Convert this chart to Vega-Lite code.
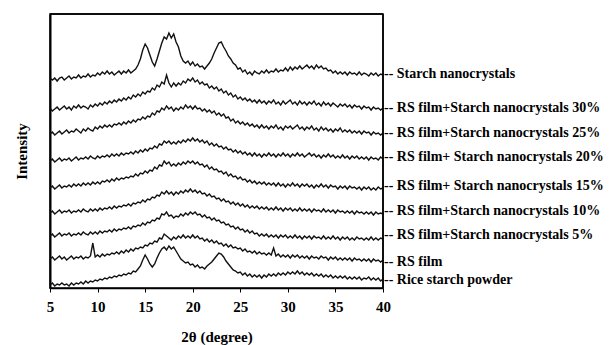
{
"$schema": "https://vega.github.io/schema/vega-lite/v6.json",
"width": 333, "height": 274,
"autosize": "none",
"padding": {"left": 50, "top": 14, "right": 226, "bottom": 57},
"background": "white",
"config": {"view": {"stroke": "black", "strokeWidth": 1.5}, "font": "Liberation Serif"},
"datasets": {
"frame": [
{"s":"top","x":5,"y":274},{"s":"top","x":40,"y":274},
{"s":"right","x":40,"y":0},{"s":"right","x":40,"y":274}
],
"labels": [
{"x":40,"y":214,"t":"-- Starch nanocrystals"},
{"x":40,"y":180,"t":"-- RS film+Starch nanocrystals 30%"},
{"x":40,"y":155,"t":"-- RS film+Starch nanocrystals 25%"},
{"x":40,"y":131,"t":"-- RS film+ Starch nanocrystals 20%"},
{"x":40,"y":102,"t":"-- RS film+ Starch nanocrystals 15%"},
{"x":40,"y":77,"t":"-- RS film+Starch nanocrystals 10%"},
{"x":40,"y":53,"t":"-- RS film+Starch nanocrystals  5%"},
{"x":40,"y":26,"t":"-- RS film"},
{"x":40,"y":8,"t":"-- Rice starch powder"}
],
"xrd": [
{"s":"A","x":5,"y":210},{"s":"A","x":5.25,"y":208},{"s":"A","x":5.5,"y":210},{"s":"A","x":5.75,"y":207},{"s":"A","x":6,"y":210},{"s":"A","x":6.25,"y":211},{"s":"A","x":6.5,"y":208},{"s":"A","x":6.75,"y":210},{"s":"A","x":7,"y":212},{"s":"A","x":7.25,"y":209},{"s":"A","x":7.5,"y":211},{"s":"A","x":7.75,"y":210},{"s":"A","x":8,"y":213},{"s":"A","x":8.25,"y":210},{"s":"A","x":8.5,"y":212},{"s":"A","x":8.75,"y":211},{"s":"A","x":9,"y":214},{"s":"A","x":9.25,"y":211},{"s":"A","x":9.5,"y":213},{"s":"A","x":9.75,"y":212},
{"s":"A","x":10,"y":215},{"s":"A","x":10.25,"y":213},{"s":"A","x":10.5,"y":216},{"s":"A","x":10.75,"y":214},{"s":"A","x":11,"y":217},{"s":"A","x":11.25,"y":214},{"s":"A","x":11.5,"y":216},{"s":"A","x":11.75,"y":213},{"s":"A","x":12,"y":215},{"s":"A","x":12.25,"y":217},{"s":"A","x":12.5,"y":214},{"s":"A","x":12.75,"y":217},{"s":"A","x":13,"y":215},{"s":"A","x":13.25,"y":218},{"s":"A","x":13.5,"y":215},{"s":"A","x":13.75,"y":217},
{"s":"A","x":14,"y":219},{"s":"A","x":14.25,"y":223},{"s":"A","x":14.5,"y":229},{"s":"A","x":14.75,"y":238},{"s":"A","x":15,"y":244},{"s":"A","x":15.25,"y":240},{"s":"A","x":15.5,"y":233},{"s":"A","x":15.75,"y":226},{"s":"A","x":16,"y":222},{"s":"A","x":16.25,"y":229},{"s":"A","x":16.5,"y":237},{"s":"A","x":16.75,"y":245},{"s":"A","x":17,"y":251},{"s":"A","x":17.25,"y":249},{"s":"A","x":17.5,"y":255},{"s":"A","x":17.75,"y":250},{"s":"A","x":18,"y":254},{"s":"A","x":18.25,"y":246},{"s":"A","x":18.5,"y":241},{"s":"A","x":18.75,"y":232},
{"s":"A","x":19,"y":227},{"s":"A","x":19.25,"y":225},{"s":"A","x":19.5,"y":227},{"s":"A","x":19.75,"y":223},{"s":"A","x":20,"y":226},{"s":"A","x":20.25,"y":222},{"s":"A","x":20.5,"y":224},{"s":"A","x":20.75,"y":221},{"s":"A","x":21,"y":222},{"s":"A","x":21.25,"y":219},{"s":"A","x":21.5,"y":222},{"s":"A","x":21.75,"y":225},{"s":"A","x":22,"y":229},{"s":"A","x":22.25,"y":235},{"s":"A","x":22.5,"y":240},{"s":"A","x":22.75,"y":245},{"s":"A","x":23,"y":246},{"s":"A","x":23.25,"y":241},{"s":"A","x":23.5,"y":237},{"s":"A","x":23.75,"y":232},
{"s":"A","x":24,"y":229},{"s":"A","x":24.25,"y":225},{"s":"A","x":24.5,"y":223},{"s":"A","x":24.75,"y":219},{"s":"A","x":25,"y":220},{"s":"A","x":25.25,"y":216},{"s":"A","x":25.5,"y":218},{"s":"A","x":25.75,"y":214},{"s":"A","x":26,"y":216},{"s":"A","x":26.25,"y":213},{"s":"A","x":26.5,"y":217},{"s":"A","x":26.75,"y":215},{"s":"A","x":27,"y":214},{"s":"A","x":27.25,"y":217},{"s":"A","x":27.5,"y":215},{"s":"A","x":27.75,"y":218},{"s":"A","x":28,"y":215},{"s":"A","x":28.25,"y":217},{"s":"A","x":28.5,"y":216},{"s":"A","x":28.75,"y":219},
{"s":"A","x":29,"y":216},{"s":"A","x":29.25,"y":218},{"s":"A","x":29.5,"y":217},{"s":"A","x":29.75,"y":220},{"s":"A","x":30,"y":217},{"s":"A","x":30.25,"y":221},{"s":"A","x":30.5,"y":218},{"s":"A","x":30.75,"y":221},{"s":"A","x":31,"y":219},{"s":"A","x":31.25,"y":222},{"s":"A","x":31.5,"y":219},{"s":"A","x":31.75,"y":221},{"s":"A","x":32,"y":223},{"s":"A","x":32.25,"y":220},{"s":"A","x":32.5,"y":222},{"s":"A","x":32.75,"y":219},{"s":"A","x":33,"y":223},{"s":"A","x":33.25,"y":220},{"s":"A","x":33.5,"y":222},{"s":"A","x":33.75,"y":219},
{"s":"A","x":34,"y":220},{"s":"A","x":34.25,"y":217},{"s":"A","x":34.5,"y":218},{"s":"A","x":34.75,"y":215},{"s":"A","x":35,"y":217},{"s":"A","x":35.25,"y":214},{"s":"A","x":35.5,"y":216},{"s":"A","x":35.75,"y":214},{"s":"A","x":36,"y":216},{"s":"A","x":36.25,"y":213},{"s":"A","x":36.5,"y":216},{"s":"A","x":36.75,"y":214},{"s":"A","x":37,"y":215},{"s":"A","x":37.25,"y":213},{"s":"A","x":37.5,"y":216},{"s":"A","x":37.75,"y":213},{"s":"A","x":38,"y":215},{"s":"A","x":38.25,"y":214},{"s":"A","x":38.5,"y":212},{"s":"A","x":38.75,"y":215},
{"s":"A","x":39,"y":213},{"s":"A","x":39.25,"y":215},{"s":"A","x":39.5,"y":212},{"s":"A","x":39.75,"y":214},{"s":"A","x":40,"y":213},

{"s":"B","x":5,"y":180},{"s":"B","x":5.25,"y":177},{"s":"B","x":5.5,"y":179},{"s":"B","x":5.75,"y":181},{"s":"B","x":6,"y":178},{"s":"B","x":6.25,"y":180},{"s":"B","x":6.5,"y":182},{"s":"B","x":6.75,"y":179},{"s":"B","x":7,"y":181},{"s":"B","x":7.25,"y":178},{"s":"B","x":7.5,"y":182},{"s":"B","x":7.75,"y":180},{"s":"B","x":8,"y":183},{"s":"B","x":8.25,"y":180},{"s":"B","x":8.5,"y":182},{"s":"B","x":8.75,"y":181},{"s":"B","x":9,"y":179},{"s":"B","x":9.25,"y":183},{"s":"B","x":9.5,"y":181},{"s":"B","x":9.75,"y":184},
{"s":"B","x":10,"y":182},{"s":"B","x":10.25,"y":185},{"s":"B","x":10.5,"y":183},{"s":"B","x":10.75,"y":186},{"s":"B","x":11,"y":184},{"s":"B","x":11.25,"y":187},{"s":"B","x":11.5,"y":185},{"s":"B","x":11.75,"y":188},{"s":"B","x":12,"y":186},{"s":"B","x":12.25,"y":189},{"s":"B","x":12.5,"y":187},{"s":"B","x":12.75,"y":190},{"s":"B","x":13,"y":188},{"s":"B","x":13.25,"y":191},{"s":"B","x":13.5,"y":189},{"s":"B","x":13.75,"y":193},
{"s":"B","x":14,"y":191},{"s":"B","x":14.25,"y":194},{"s":"B","x":14.5,"y":192},{"s":"B","x":14.75,"y":196},{"s":"B","x":15,"y":194},{"s":"B","x":15.25,"y":197},{"s":"B","x":15.5,"y":196},{"s":"B","x":15.75,"y":200},{"s":"B","x":16,"y":198},{"s":"B","x":16.25,"y":203},{"s":"B","x":16.5,"y":201},{"s":"B","x":16.75,"y":206},{"s":"B","x":17,"y":204},{"s":"B","x":17.25,"y":213},{"s":"B","x":17.5,"y":205},{"s":"B","x":17.75,"y":201},{"s":"B","x":18,"y":205},{"s":"B","x":18.25,"y":202},{"s":"B","x":18.5,"y":205},{"s":"B","x":18.75,"y":203},
{"s":"B","x":19,"y":207},{"s":"B","x":19.25,"y":205},{"s":"B","x":19.5,"y":209},{"s":"B","x":19.75,"y":207},{"s":"B","x":20,"y":210},{"s":"B","x":20.25,"y":206},{"s":"B","x":20.5,"y":208},{"s":"B","x":20.75,"y":204},{"s":"B","x":21,"y":206},{"s":"B","x":21.25,"y":203},{"s":"B","x":21.5,"y":204},{"s":"B","x":21.75,"y":200},{"s":"B","x":22,"y":202},{"s":"B","x":22.25,"y":199},{"s":"B","x":22.5,"y":201},{"s":"B","x":22.75,"y":197},{"s":"B","x":23,"y":199},{"s":"B","x":23.25,"y":195},{"s":"B","x":23.5,"y":197},{"s":"B","x":23.75,"y":193},
{"s":"B","x":24,"y":195},{"s":"B","x":24.25,"y":191},{"s":"B","x":24.5,"y":193},{"s":"B","x":24.75,"y":189},{"s":"B","x":25,"y":191},{"s":"B","x":25.25,"y":188},{"s":"B","x":25.5,"y":190},{"s":"B","x":25.75,"y":187},{"s":"B","x":26,"y":189},{"s":"B","x":26.25,"y":186},{"s":"B","x":26.5,"y":188},{"s":"B","x":26.75,"y":185},{"s":"B","x":27,"y":188},{"s":"B","x":27.25,"y":185},{"s":"B","x":27.5,"y":187},{"s":"B","x":27.75,"y":184},{"s":"B","x":28,"y":187},{"s":"B","x":28.25,"y":185},{"s":"B","x":28.5,"y":188},{"s":"B","x":28.75,"y":184},
{"s":"B","x":29,"y":186},{"s":"B","x":29.25,"y":183},{"s":"B","x":29.5,"y":187},{"s":"B","x":29.75,"y":184},{"s":"B","x":30,"y":186},{"s":"B","x":30.25,"y":188},{"s":"B","x":30.5,"y":184},{"s":"B","x":30.75,"y":186},{"s":"B","x":31,"y":183},{"s":"B","x":31.25,"y":187},{"s":"B","x":31.5,"y":184},{"s":"B","x":31.75,"y":186},{"s":"B","x":32,"y":183},{"s":"B","x":32.25,"y":186},{"s":"B","x":32.5,"y":184},{"s":"B","x":32.75,"y":187},{"s":"B","x":33,"y":183},{"s":"B","x":33.25,"y":185},{"s":"B","x":33.5,"y":182},{"s":"B","x":33.75,"y":186},
{"s":"B","x":34,"y":183},{"s":"B","x":34.25,"y":185},{"s":"B","x":34.5,"y":182},{"s":"B","x":34.75,"y":185},{"s":"B","x":35,"y":183},{"s":"B","x":35.25,"y":181},{"s":"B","x":35.5,"y":184},{"s":"B","x":35.75,"y":182},{"s":"B","x":36,"y":184},{"s":"B","x":36.25,"y":181},{"s":"B","x":36.5,"y":183},{"s":"B","x":36.75,"y":180},{"s":"B","x":37,"y":183},{"s":"B","x":37.25,"y":181},{"s":"B","x":37.5,"y":182},{"s":"B","x":37.75,"y":179},{"s":"B","x":38,"y":182},{"s":"B","x":38.25,"y":180},{"s":"B","x":38.5,"y":181},{"s":"B","x":38.75,"y":178},
{"s":"B","x":39,"y":181},{"s":"B","x":39.25,"y":179},{"s":"B","x":39.5,"y":180},{"s":"B","x":39.75,"y":178},{"s":"B","x":40,"y":180},

{"s":"C","x":5,"y":154},{"s":"C","x":5.25,"y":156},{"s":"C","x":5.5,"y":153},{"s":"C","x":5.75,"y":155},{"s":"C","x":6,"y":157},{"s":"C","x":6.25,"y":154},{"s":"C","x":6.5,"y":156},{"s":"C","x":6.75,"y":158},{"s":"C","x":7,"y":155},{"s":"C","x":7.25,"y":157},{"s":"C","x":7.5,"y":156},{"s":"C","x":7.75,"y":159},{"s":"C","x":8,"y":157},{"s":"C","x":8.25,"y":155},{"s":"C","x":8.5,"y":159},{"s":"C","x":8.75,"y":157},{"s":"C","x":9,"y":160},{"s":"C","x":9.25,"y":158},{"s":"C","x":9.5,"y":157},{"s":"C","x":9.75,"y":161},
{"s":"C","x":10,"y":159},{"s":"C","x":10.25,"y":162},{"s":"C","x":10.5,"y":160},{"s":"C","x":10.75,"y":163},{"s":"C","x":11,"y":161},{"s":"C","x":11.25,"y":163},{"s":"C","x":11.5,"y":161},{"s":"C","x":11.75,"y":164},{"s":"C","x":12,"y":163},{"s":"C","x":12.25,"y":165},{"s":"C","x":12.5,"y":163},{"s":"C","x":12.75,"y":166},{"s":"C","x":13,"y":164},{"s":"C","x":13.25,"y":167},{"s":"C","x":13.5,"y":165},{"s":"C","x":13.75,"y":168},
{"s":"C","x":14,"y":166},{"s":"C","x":14.25,"y":169},{"s":"C","x":14.5,"y":168},{"s":"C","x":14.75,"y":171},{"s":"C","x":15,"y":169},{"s":"C","x":15.25,"y":172},{"s":"C","x":15.5,"y":171},{"s":"C","x":15.75,"y":175},{"s":"C","x":16,"y":173},{"s":"C","x":16.25,"y":177},{"s":"C","x":16.5,"y":176},{"s":"C","x":16.75,"y":180},{"s":"C","x":17,"y":178},{"s":"C","x":17.25,"y":182},{"s":"C","x":17.5,"y":179},{"s":"C","x":17.75,"y":181},{"s":"C","x":18,"y":177},{"s":"C","x":18.25,"y":180},{"s":"C","x":18.5,"y":178},{"s":"C","x":18.75,"y":181},
{"s":"C","x":19,"y":179},{"s":"C","x":19.25,"y":183},{"s":"C","x":19.5,"y":180},{"s":"C","x":19.75,"y":182},{"s":"C","x":20,"y":179},{"s":"C","x":20.25,"y":182},{"s":"C","x":20.5,"y":179},{"s":"C","x":20.75,"y":180},{"s":"C","x":21,"y":177},{"s":"C","x":21.25,"y":179},{"s":"C","x":21.5,"y":176},{"s":"C","x":21.75,"y":178},{"s":"C","x":22,"y":175},{"s":"C","x":22.25,"y":177},{"s":"C","x":22.5,"y":173},{"s":"C","x":22.75,"y":175},{"s":"C","x":23,"y":172},{"s":"C","x":23.25,"y":174},{"s":"C","x":23.5,"y":170},{"s":"C","x":23.75,"y":171},
{"s":"C","x":24,"y":167},{"s":"C","x":24.25,"y":169},{"s":"C","x":24.5,"y":165},{"s":"C","x":24.75,"y":167},{"s":"C","x":25,"y":164},{"s":"C","x":25.25,"y":166},{"s":"C","x":25.5,"y":163},{"s":"C","x":25.75,"y":165},{"s":"C","x":26,"y":162},{"s":"C","x":26.25,"y":164},{"s":"C","x":26.5,"y":161},{"s":"C","x":26.75,"y":163},{"s":"C","x":27,"y":160},{"s":"C","x":27.25,"y":163},{"s":"C","x":27.5,"y":160},{"s":"C","x":27.75,"y":162},{"s":"C","x":28,"y":159},{"s":"C","x":28.25,"y":162},{"s":"C","x":28.5,"y":160},{"s":"C","x":28.75,"y":163},
{"s":"C","x":29,"y":159},{"s":"C","x":29.25,"y":161},{"s":"C","x":29.5,"y":158},{"s":"C","x":29.75,"y":162},{"s":"C","x":30,"y":160},{"s":"C","x":30.25,"y":162},{"s":"C","x":30.5,"y":159},{"s":"C","x":30.75,"y":161},{"s":"C","x":31,"y":163},{"s":"C","x":31.25,"y":159},{"s":"C","x":31.5,"y":161},{"s":"C","x":31.75,"y":158},{"s":"C","x":32,"y":161},{"s":"C","x":32.25,"y":159},{"s":"C","x":32.5,"y":162},{"s":"C","x":32.75,"y":158},{"s":"C","x":33,"y":160},{"s":"C","x":33.25,"y":157},{"s":"C","x":33.5,"y":161},{"s":"C","x":33.75,"y":158},
{"s":"C","x":34,"y":160},{"s":"C","x":34.25,"y":157},{"s":"C","x":34.5,"y":159},{"s":"C","x":34.75,"y":156},{"s":"C","x":35,"y":159},{"s":"C","x":35.25,"y":157},{"s":"C","x":35.5,"y":160},{"s":"C","x":35.75,"y":156},{"s":"C","x":36,"y":158},{"s":"C","x":36.25,"y":156},{"s":"C","x":36.5,"y":158},{"s":"C","x":36.75,"y":155},{"s":"C","x":37,"y":157},{"s":"C","x":37.25,"y":155},{"s":"C","x":37.5,"y":157},{"s":"C","x":37.75,"y":154},{"s":"C","x":38,"y":157},{"s":"C","x":38.25,"y":155},{"s":"C","x":38.5,"y":156},{"s":"C","x":38.75,"y":153},
{"s":"C","x":39,"y":156},{"s":"C","x":39.25,"y":154},{"s":"C","x":39.5,"y":155},{"s":"C","x":39.75,"y":153},{"s":"C","x":40,"y":155},

{"s":"D","x":5,"y":127},{"s":"D","x":5.25,"y":129},{"s":"D","x":5.5,"y":126},{"s":"D","x":5.75,"y":128},{"s":"D","x":6,"y":130},{"s":"D","x":6.25,"y":127},{"s":"D","x":6.5,"y":129},{"s":"D","x":6.75,"y":128},{"s":"D","x":7,"y":130},{"s":"D","x":7.25,"y":127},{"s":"D","x":7.5,"y":129},{"s":"D","x":7.75,"y":131},{"s":"D","x":8,"y":128},{"s":"D","x":8.25,"y":130},{"s":"D","x":8.5,"y":129},{"s":"D","x":8.75,"y":131},{"s":"D","x":9,"y":129},{"s":"D","x":9.25,"y":132},{"s":"D","x":9.5,"y":130},{"s":"D","x":9.75,"y":129},
{"s":"D","x":10,"y":132},{"s":"D","x":10.25,"y":130},{"s":"D","x":10.5,"y":132},{"s":"D","x":10.75,"y":131},{"s":"D","x":11,"y":133},{"s":"D","x":11.25,"y":131},{"s":"D","x":11.5,"y":134},{"s":"D","x":11.75,"y":132},{"s":"D","x":12,"y":134},{"s":"D","x":12.25,"y":132},{"s":"D","x":12.5,"y":135},{"s":"D","x":12.75,"y":133},{"s":"D","x":13,"y":135},{"s":"D","x":13.25,"y":134},{"s":"D","x":13.5,"y":136},{"s":"D","x":13.75,"y":134},
{"s":"D","x":14,"y":137},{"s":"D","x":14.25,"y":135},{"s":"D","x":14.5,"y":138},{"s":"D","x":14.75,"y":136},{"s":"D","x":15,"y":139},{"s":"D","x":15.25,"y":137},{"s":"D","x":15.5,"y":140},{"s":"D","x":15.75,"y":139},{"s":"D","x":16,"y":142},{"s":"D","x":16.25,"y":140},{"s":"D","x":16.5,"y":144},{"s":"D","x":16.75,"y":143},{"s":"D","x":17,"y":147},{"s":"D","x":17.25,"y":145},{"s":"D","x":17.5,"y":147},{"s":"D","x":17.75,"y":144},{"s":"D","x":18,"y":146},{"s":"D","x":18.25,"y":144},{"s":"D","x":18.5,"y":147},{"s":"D","x":18.75,"y":145},
{"s":"D","x":19,"y":148},{"s":"D","x":19.25,"y":146},{"s":"D","x":19.5,"y":149},{"s":"D","x":19.75,"y":147},{"s":"D","x":20,"y":150},{"s":"D","x":20.25,"y":147},{"s":"D","x":20.5,"y":149},{"s":"D","x":20.75,"y":146},{"s":"D","x":21,"y":148},{"s":"D","x":21.25,"y":145},{"s":"D","x":21.5,"y":147},{"s":"D","x":21.75,"y":143},{"s":"D","x":22,"y":145},{"s":"D","x":22.25,"y":142},{"s":"D","x":22.5,"y":144},{"s":"D","x":22.75,"y":141},{"s":"D","x":23,"y":142},{"s":"D","x":23.25,"y":139},{"s":"D","x":23.5,"y":141},{"s":"D","x":23.75,"y":138},
{"s":"D","x":24,"y":139},{"s":"D","x":24.25,"y":136},{"s":"D","x":24.5,"y":138},{"s":"D","x":24.75,"y":135},{"s":"D","x":25,"y":137},{"s":"D","x":25.25,"y":134},{"s":"D","x":25.5,"y":136},{"s":"D","x":25.75,"y":133},{"s":"D","x":26,"y":135},{"s":"D","x":26.25,"y":132},{"s":"D","x":26.5,"y":135},{"s":"D","x":26.75,"y":132},{"s":"D","x":27,"y":134},{"s":"D","x":27.25,"y":131},{"s":"D","x":27.5,"y":134},{"s":"D","x":27.75,"y":132},{"s":"D","x":28,"y":135},{"s":"D","x":28.25,"y":132},{"s":"D","x":28.5,"y":134},{"s":"D","x":28.75,"y":131},
{"s":"D","x":29,"y":134},{"s":"D","x":29.25,"y":132},{"s":"D","x":29.5,"y":135},{"s":"D","x":29.75,"y":132},{"s":"D","x":30,"y":134},{"s":"D","x":30.25,"y":131},{"s":"D","x":30.5,"y":134},{"s":"D","x":30.75,"y":132},{"s":"D","x":31,"y":135},{"s":"D","x":31.25,"y":132},{"s":"D","x":31.5,"y":134},{"s":"D","x":31.75,"y":131},{"s":"D","x":32,"y":133},{"s":"D","x":32.25,"y":135},{"s":"D","x":32.5,"y":132},{"s":"D","x":32.75,"y":134},{"s":"D","x":33,"y":131},{"s":"D","x":33.25,"y":133},{"s":"D","x":33.5,"y":130},{"s":"D","x":33.75,"y":133},
{"s":"D","x":34,"y":131},{"s":"D","x":34.25,"y":134},{"s":"D","x":34.5,"y":131},{"s":"D","x":34.75,"y":133},{"s":"D","x":35,"y":130},{"s":"D","x":35.25,"y":132},{"s":"D","x":35.5,"y":130},{"s":"D","x":35.75,"y":133},{"s":"D","x":36,"y":130},{"s":"D","x":36.25,"y":132},{"s":"D","x":36.5,"y":129},{"s":"D","x":36.75,"y":132},{"s":"D","x":37,"y":130},{"s":"D","x":37.25,"y":132},{"s":"D","x":37.5,"y":129},{"s":"D","x":37.75,"y":131},{"s":"D","x":38,"y":129},{"s":"D","x":38.25,"y":131},{"s":"D","x":38.5,"y":128},{"s":"D","x":38.75,"y":131},
{"s":"D","x":39,"y":129},{"s":"D","x":39.25,"y":130},{"s":"D","x":39.5,"y":128},{"s":"D","x":39.75,"y":131},{"s":"D","x":40,"y":129},

{"s":"E","x":5,"y":100},{"s":"E","x":5.25,"y":102},{"s":"E","x":5.5,"y":99},{"s":"E","x":5.75,"y":101},{"s":"E","x":6,"y":103},{"s":"E","x":6.25,"y":100},{"s":"E","x":6.5,"y":102},{"s":"E","x":6.75,"y":101},{"s":"E","x":7,"y":103},{"s":"E","x":7.25,"y":101},{"s":"E","x":7.5,"y":104},{"s":"E","x":7.75,"y":102},{"s":"E","x":8,"y":104},{"s":"E","x":8.25,"y":102},{"s":"E","x":8.5,"y":105},{"s":"E","x":8.75,"y":103},{"s":"E","x":9,"y":105},{"s":"E","x":9.25,"y":103},{"s":"E","x":9.5,"y":106},{"s":"E","x":9.75,"y":104},
{"s":"E","x":10,"y":106},{"s":"E","x":10.25,"y":104},{"s":"E","x":10.5,"y":107},{"s":"E","x":10.75,"y":106},{"s":"E","x":11,"y":108},{"s":"E","x":11.25,"y":106},{"s":"E","x":11.5,"y":109},{"s":"E","x":11.75,"y":107},{"s":"E","x":12,"y":110},{"s":"E","x":12.25,"y":108},{"s":"E","x":12.5,"y":110},{"s":"E","x":12.75,"y":109},{"s":"E","x":13,"y":111},{"s":"E","x":13.25,"y":110},{"s":"E","x":13.5,"y":112},{"s":"E","x":13.75,"y":111},
{"s":"E","x":14,"y":114},{"s":"E","x":14.25,"y":112},{"s":"E","x":14.5,"y":115},{"s":"E","x":14.75,"y":114},{"s":"E","x":15,"y":117},{"s":"E","x":15.25,"y":115},{"s":"E","x":15.5,"y":118},{"s":"E","x":15.75,"y":117},{"s":"E","x":16,"y":121},{"s":"E","x":16.25,"y":119},{"s":"E","x":16.5,"y":123},{"s":"E","x":16.75,"y":122},{"s":"E","x":17,"y":127},{"s":"E","x":17.25,"y":124},{"s":"E","x":17.5,"y":126},{"s":"E","x":17.75,"y":122},{"s":"E","x":18,"y":124},{"s":"E","x":18.25,"y":122},{"s":"E","x":18.5,"y":125},{"s":"E","x":18.75,"y":123},
{"s":"E","x":19,"y":126},{"s":"E","x":19.25,"y":124},{"s":"E","x":19.5,"y":127},{"s":"E","x":19.75,"y":125},{"s":"E","x":20,"y":127},{"s":"E","x":20.25,"y":124},{"s":"E","x":20.5,"y":126},{"s":"E","x":20.75,"y":123},{"s":"E","x":21,"y":124},{"s":"E","x":21.25,"y":121},{"s":"E","x":21.5,"y":123},{"s":"E","x":21.75,"y":119},{"s":"E","x":22,"y":121},{"s":"E","x":22.25,"y":118},{"s":"E","x":22.5,"y":119},{"s":"E","x":22.75,"y":116},{"s":"E","x":23,"y":117},{"s":"E","x":23.25,"y":114},{"s":"E","x":23.5,"y":116},{"s":"E","x":23.75,"y":112},
{"s":"E","x":24,"y":114},{"s":"E","x":24.25,"y":111},{"s":"E","x":24.5,"y":112},{"s":"E","x":24.75,"y":109},{"s":"E","x":25,"y":111},{"s":"E","x":25.25,"y":108},{"s":"E","x":25.5,"y":109},{"s":"E","x":25.75,"y":106},{"s":"E","x":26,"y":108},{"s":"E","x":26.25,"y":105},{"s":"E","x":26.5,"y":107},{"s":"E","x":26.75,"y":104},{"s":"E","x":27,"y":106},{"s":"E","x":27.25,"y":104},{"s":"E","x":27.5,"y":106},{"s":"E","x":27.75,"y":103},{"s":"E","x":28,"y":105},{"s":"E","x":28.25,"y":103},{"s":"E","x":28.5,"y":105},{"s":"E","x":28.75,"y":102},
{"s":"E","x":29,"y":105},{"s":"E","x":29.25,"y":102},{"s":"E","x":29.5,"y":104},{"s":"E","x":29.75,"y":101},{"s":"E","x":30,"y":104},{"s":"E","x":30.25,"y":102},{"s":"E","x":30.5,"y":105},{"s":"E","x":30.75,"y":102},{"s":"E","x":31,"y":104},{"s":"E","x":31.25,"y":101},{"s":"E","x":31.5,"y":104},{"s":"E","x":31.75,"y":102},{"s":"E","x":32,"y":104},{"s":"E","x":32.25,"y":101},{"s":"E","x":32.5,"y":103},{"s":"E","x":32.75,"y":100},{"s":"E","x":33,"y":103},{"s":"E","x":33.25,"y":101},{"s":"E","x":33.5,"y":104},{"s":"E","x":33.75,"y":101},
{"s":"E","x":34,"y":103},{"s":"E","x":34.25,"y":100},{"s":"E","x":34.5,"y":103},{"s":"E","x":34.75,"y":101},{"s":"E","x":35,"y":102},{"s":"E","x":35.25,"y":99},{"s":"E","x":35.5,"y":102},{"s":"E","x":35.75,"y":100},{"s":"E","x":36,"y":102},{"s":"E","x":36.25,"y":99},{"s":"E","x":36.5,"y":102},{"s":"E","x":36.75,"y":100},{"s":"E","x":37,"y":101},{"s":"E","x":37.25,"y":99},{"s":"E","x":37.5,"y":101},{"s":"E","x":37.75,"y":98},{"s":"E","x":38,"y":101},{"s":"E","x":38.25,"y":99},{"s":"E","x":38.5,"y":101},{"s":"E","x":38.75,"y":98},
{"s":"E","x":39,"y":100},{"s":"E","x":39.25,"y":98},{"s":"E","x":39.5,"y":101},{"s":"E","x":39.75,"y":99},{"s":"E","x":40,"y":100},

{"s":"F","x":5,"y":75},{"s":"F","x":5.25,"y":77},{"s":"F","x":5.5,"y":74},{"s":"F","x":5.75,"y":76},{"s":"F","x":6,"y":78},{"s":"F","x":6.25,"y":75},{"s":"F","x":6.5,"y":77},{"s":"F","x":6.75,"y":76},{"s":"F","x":7,"y":78},{"s":"F","x":7.25,"y":75},{"s":"F","x":7.5,"y":77},{"s":"F","x":7.75,"y":76},{"s":"F","x":8,"y":78},{"s":"F","x":8.25,"y":76},{"s":"F","x":8.5,"y":79},{"s":"F","x":8.75,"y":77},{"s":"F","x":9,"y":76},{"s":"F","x":9.25,"y":79},{"s":"F","x":9.5,"y":77},{"s":"F","x":9.75,"y":79},
{"s":"F","x":10,"y":77},{"s":"F","x":10.25,"y":80},{"s":"F","x":10.5,"y":78},{"s":"F","x":10.75,"y":80},{"s":"F","x":11,"y":79},{"s":"F","x":11.25,"y":81},{"s":"F","x":11.5,"y":79},{"s":"F","x":11.75,"y":82},{"s":"F","x":12,"y":80},{"s":"F","x":12.25,"y":82},{"s":"F","x":12.5,"y":81},{"s":"F","x":12.75,"y":83},{"s":"F","x":13,"y":82},{"s":"F","x":13.25,"y":84},{"s":"F","x":13.5,"y":82},{"s":"F","x":13.75,"y":85},
{"s":"F","x":14,"y":84},{"s":"F","x":14.25,"y":86},{"s":"F","x":14.5,"y":85},{"s":"F","x":14.75,"y":88},{"s":"F","x":15,"y":86},{"s":"F","x":15.25,"y":89},{"s":"F","x":15.5,"y":88},{"s":"F","x":15.75,"y":91},{"s":"F","x":16,"y":90},{"s":"F","x":16.25,"y":93},{"s":"F","x":16.5,"y":92},{"s":"F","x":16.75,"y":96},{"s":"F","x":17,"y":94},{"s":"F","x":17.25,"y":97},{"s":"F","x":17.5,"y":94},{"s":"F","x":17.75,"y":96},{"s":"F","x":18,"y":93},{"s":"F","x":18.25,"y":96},{"s":"F","x":18.5,"y":94},{"s":"F","x":18.75,"y":97},
{"s":"F","x":19,"y":95},{"s":"F","x":19.25,"y":98},{"s":"F","x":19.5,"y":96},{"s":"F","x":19.75,"y":99},{"s":"F","x":20,"y":96},{"s":"F","x":20.25,"y":98},{"s":"F","x":20.5,"y":95},{"s":"F","x":20.75,"y":97},{"s":"F","x":21,"y":94},{"s":"F","x":21.25,"y":95},{"s":"F","x":21.5,"y":92},{"s":"F","x":21.75,"y":94},{"s":"F","x":22,"y":91},{"s":"F","x":22.25,"y":92},{"s":"F","x":22.5,"y":89},{"s":"F","x":22.75,"y":90},{"s":"F","x":23,"y":87},{"s":"F","x":23.25,"y":89},{"s":"F","x":23.5,"y":86},{"s":"F","x":23.75,"y":87},
{"s":"F","x":24,"y":84},{"s":"F","x":24.25,"y":86},{"s":"F","x":24.5,"y":83},{"s":"F","x":24.75,"y":85},{"s":"F","x":25,"y":82},{"s":"F","x":25.25,"y":84},{"s":"F","x":25.5,"y":81},{"s":"F","x":25.75,"y":83},{"s":"F","x":26,"y":80},{"s":"F","x":26.25,"y":82},{"s":"F","x":26.5,"y":80},{"s":"F","x":26.75,"y":82},{"s":"F","x":27,"y":79},{"s":"F","x":27.25,"y":81},{"s":"F","x":27.5,"y":79},{"s":"F","x":27.75,"y":81},{"s":"F","x":28,"y":78},{"s":"F","x":28.25,"y":80},{"s":"F","x":28.5,"y":78},{"s":"F","x":28.75,"y":81},
{"s":"F","x":29,"y":78},{"s":"F","x":29.25,"y":80},{"s":"F","x":29.5,"y":77},{"s":"F","x":29.75,"y":80},{"s":"F","x":30,"y":78},{"s":"F","x":30.25,"y":80},{"s":"F","x":30.5,"y":77},{"s":"F","x":30.75,"y":79},{"s":"F","x":31,"y":77},{"s":"F","x":31.25,"y":80},{"s":"F","x":31.5,"y":77},{"s":"F","x":31.75,"y":79},{"s":"F","x":32,"y":77},{"s":"F","x":32.25,"y":79},{"s":"F","x":32.5,"y":76},{"s":"F","x":32.75,"y":79},{"s":"F","x":33,"y":77},{"s":"F","x":33.25,"y":78},{"s":"F","x":33.5,"y":76},{"s":"F","x":33.75,"y":79},
{"s":"F","x":34,"y":76},{"s":"F","x":34.25,"y":78},{"s":"F","x":34.5,"y":76},{"s":"F","x":34.75,"y":78},{"s":"F","x":35,"y":75},{"s":"F","x":35.25,"y":78},{"s":"F","x":35.5,"y":76},{"s":"F","x":35.75,"y":77},{"s":"F","x":36,"y":75},{"s":"F","x":36.25,"y":77},{"s":"F","x":36.5,"y":75},{"s":"F","x":36.75,"y":77},{"s":"F","x":37,"y":74},{"s":"F","x":37.25,"y":77},{"s":"F","x":37.5,"y":75},{"s":"F","x":37.75,"y":76},{"s":"F","x":38,"y":74},{"s":"F","x":38.25,"y":76},{"s":"F","x":38.5,"y":74},{"s":"F","x":38.75,"y":76},
{"s":"F","x":39,"y":73},{"s":"F","x":39.25,"y":76},{"s":"F","x":39.5,"y":74},{"s":"F","x":39.75,"y":75},{"s":"F","x":40,"y":74},

{"s":"G","x":5,"y":52},{"s":"G","x":5.25,"y":54},{"s":"G","x":5.5,"y":51},{"s":"G","x":5.75,"y":53},{"s":"G","x":6,"y":55},{"s":"G","x":6.25,"y":52},{"s":"G","x":6.5,"y":54},{"s":"G","x":6.75,"y":53},{"s":"G","x":7,"y":55},{"s":"G","x":7.25,"y":52},{"s":"G","x":7.5,"y":54},{"s":"G","x":7.75,"y":53},{"s":"G","x":8,"y":55},{"s":"G","x":8.25,"y":53},{"s":"G","x":8.5,"y":56},{"s":"G","x":8.75,"y":54},{"s":"G","x":9,"y":53},{"s":"G","x":9.25,"y":56},{"s":"G","x":9.5,"y":54},{"s":"G","x":9.75,"y":56},
{"s":"G","x":10,"y":54},{"s":"G","x":10.25,"y":57},{"s":"G","x":10.5,"y":55},{"s":"G","x":10.75,"y":57},{"s":"G","x":11,"y":56},{"s":"G","x":11.25,"y":58},{"s":"G","x":11.5,"y":56},{"s":"G","x":11.75,"y":59},{"s":"G","x":12,"y":57},{"s":"G","x":12.25,"y":59},{"s":"G","x":12.5,"y":58},{"s":"G","x":12.75,"y":60},{"s":"G","x":13,"y":59},{"s":"G","x":13.25,"y":61},{"s":"G","x":13.5,"y":59},{"s":"G","x":13.75,"y":62},
{"s":"G","x":14,"y":61},{"s":"G","x":14.25,"y":63},{"s":"G","x":14.5,"y":62},{"s":"G","x":14.75,"y":65},{"s":"G","x":15,"y":63},{"s":"G","x":15.25,"y":66},{"s":"G","x":15.5,"y":65},{"s":"G","x":15.75,"y":68},{"s":"G","x":16,"y":67},{"s":"G","x":16.25,"y":70},{"s":"G","x":16.5,"y":69},{"s":"G","x":16.75,"y":74},{"s":"G","x":17,"y":73},{"s":"G","x":17.25,"y":76},{"s":"G","x":17.5,"y":72},{"s":"G","x":17.75,"y":73},{"s":"G","x":18,"y":70},{"s":"G","x":18.25,"y":72},{"s":"G","x":18.5,"y":71},{"s":"G","x":18.75,"y":74},
{"s":"G","x":19,"y":72},{"s":"G","x":19.25,"y":75},{"s":"G","x":19.5,"y":73},{"s":"G","x":19.75,"y":76},{"s":"G","x":20,"y":74},{"s":"G","x":20.25,"y":76},{"s":"G","x":20.5,"y":73},{"s":"G","x":20.75,"y":74},{"s":"G","x":21,"y":71},{"s":"G","x":21.25,"y":73},{"s":"G","x":21.5,"y":70},{"s":"G","x":21.75,"y":71},{"s":"G","x":22,"y":68},{"s":"G","x":22.25,"y":70},{"s":"G","x":22.5,"y":67},{"s":"G","x":22.75,"y":68},{"s":"G","x":23,"y":65},{"s":"G","x":23.25,"y":66},{"s":"G","x":23.5,"y":63},{"s":"G","x":23.75,"y":64},
{"s":"G","x":24,"y":61},{"s":"G","x":24.25,"y":62},{"s":"G","x":24.5,"y":59},{"s":"G","x":24.75,"y":61},{"s":"G","x":25,"y":58},{"s":"G","x":25.25,"y":59},{"s":"G","x":25.5,"y":56},{"s":"G","x":25.75,"y":58},{"s":"G","x":26,"y":55},{"s":"G","x":26.25,"y":57},{"s":"G","x":26.5,"y":54},{"s":"G","x":26.75,"y":55},{"s":"G","x":27,"y":52},{"s":"G","x":27.25,"y":54},{"s":"G","x":27.5,"y":52},{"s":"G","x":27.75,"y":54},{"s":"G","x":28,"y":51},{"s":"G","x":28.25,"y":53},{"s":"G","x":28.5,"y":51},{"s":"G","x":28.75,"y":53},
{"s":"G","x":29,"y":50},{"s":"G","x":29.25,"y":53},{"s":"G","x":29.5,"y":51},{"s":"G","x":29.75,"y":53},{"s":"G","x":30,"y":50},{"s":"G","x":30.25,"y":52},{"s":"G","x":30.5,"y":50},{"s":"G","x":30.75,"y":53},{"s":"G","x":31,"y":50},{"s":"G","x":31.25,"y":52},{"s":"G","x":31.5,"y":49},{"s":"G","x":31.75,"y":52},{"s":"G","x":32,"y":50},{"s":"G","x":32.25,"y":52},{"s":"G","x":32.5,"y":49},{"s":"G","x":32.75,"y":52},{"s":"G","x":33,"y":50},{"s":"G","x":33.25,"y":51},{"s":"G","x":33.5,"y":49},{"s":"G","x":33.75,"y":52},
{"s":"G","x":34,"y":49},{"s":"G","x":34.25,"y":51},{"s":"G","x":34.5,"y":49},{"s":"G","x":34.75,"y":52},{"s":"G","x":35,"y":49},{"s":"G","x":35.25,"y":51},{"s":"G","x":35.5,"y":48},{"s":"G","x":35.75,"y":51},{"s":"G","x":36,"y":49},{"s":"G","x":36.25,"y":51},{"s":"G","x":36.5,"y":48},{"s":"G","x":36.75,"y":50},{"s":"G","x":37,"y":48},{"s":"G","x":37.25,"y":51},{"s":"G","x":37.5,"y":49},{"s":"G","x":37.75,"y":50},{"s":"G","x":38,"y":48},{"s":"G","x":38.25,"y":50},{"s":"G","x":38.5,"y":48},{"s":"G","x":38.75,"y":51},
{"s":"G","x":39,"y":48},{"s":"G","x":39.25,"y":50},{"s":"G","x":39.5,"y":48},{"s":"G","x":39.75,"y":50},{"s":"G","x":40,"y":49},

{"s":"H","x":5,"y":29},{"s":"H","x":5.25,"y":31},{"s":"H","x":5.5,"y":28},{"s":"H","x":5.75,"y":30},{"s":"H","x":6,"y":32},{"s":"H","x":6.25,"y":29},{"s":"H","x":6.5,"y":31},{"s":"H","x":6.75,"y":28},{"s":"H","x":7,"y":30},{"s":"H","x":7.25,"y":32},{"s":"H","x":7.5,"y":29},{"s":"H","x":7.75,"y":31},{"s":"H","x":8,"y":30},{"s":"H","x":8.25,"y":32},{"s":"H","x":8.5,"y":29},{"s":"H","x":8.75,"y":31},{"s":"H","x":9,"y":30},{"s":"H","x":9.25,"y":32},{"s":"H","x":9.5,"y":45},{"s":"H","x":9.75,"y":31},
{"s":"H","x":10,"y":33},{"s":"H","x":10.25,"y":31},{"s":"H","x":10.5,"y":34},{"s":"H","x":10.75,"y":32},{"s":"H","x":11,"y":34},{"s":"H","x":11.25,"y":33},{"s":"H","x":11.5,"y":35},{"s":"H","x":11.75,"y":34},{"s":"H","x":12,"y":36},{"s":"H","x":12.25,"y":34},{"s":"H","x":12.5,"y":37},{"s":"H","x":12.75,"y":35},{"s":"H","x":13,"y":38},{"s":"H","x":13.25,"y":36},{"s":"H","x":13.5,"y":39},{"s":"H","x":13.75,"y":37},
{"s":"H","x":14,"y":40},{"s":"H","x":14.25,"y":39},{"s":"H","x":14.5,"y":41},{"s":"H","x":14.75,"y":40},{"s":"H","x":15,"y":43},{"s":"H","x":15.25,"y":42},{"s":"H","x":15.5,"y":45},{"s":"H","x":15.75,"y":44},{"s":"H","x":16,"y":47},{"s":"H","x":16.25,"y":46},{"s":"H","x":16.5,"y":50},{"s":"H","x":16.75,"y":49},{"s":"H","x":17,"y":54},{"s":"H","x":17.25,"y":52},{"s":"H","x":17.5,"y":50},{"s":"H","x":17.75,"y":48},{"s":"H","x":18,"y":51},{"s":"H","x":18.25,"y":49},{"s":"H","x":18.5,"y":52},{"s":"H","x":18.75,"y":50},
{"s":"H","x":19,"y":53},{"s":"H","x":19.25,"y":50},{"s":"H","x":19.5,"y":52},{"s":"H","x":19.75,"y":50},{"s":"H","x":20,"y":53},{"s":"H","x":20.25,"y":50},{"s":"H","x":20.5,"y":52},{"s":"H","x":20.75,"y":49},{"s":"H","x":21,"y":50},{"s":"H","x":21.25,"y":47},{"s":"H","x":21.5,"y":49},{"s":"H","x":21.75,"y":46},{"s":"H","x":22,"y":48},{"s":"H","x":22.25,"y":45},{"s":"H","x":22.5,"y":47},{"s":"H","x":22.75,"y":44},{"s":"H","x":23,"y":45},{"s":"H","x":23.25,"y":42},{"s":"H","x":23.5,"y":44},{"s":"H","x":23.75,"y":41},
{"s":"H","x":24,"y":43},{"s":"H","x":24.25,"y":40},{"s":"H","x":24.5,"y":41},{"s":"H","x":24.75,"y":39},{"s":"H","x":25,"y":40},{"s":"H","x":25.25,"y":37},{"s":"H","x":25.5,"y":39},{"s":"H","x":25.75,"y":36},{"s":"H","x":26,"y":37},{"s":"H","x":26.25,"y":35},{"s":"H","x":26.5,"y":37},{"s":"H","x":26.75,"y":34},{"s":"H","x":27,"y":36},{"s":"H","x":27.25,"y":34},{"s":"H","x":27.5,"y":35},{"s":"H","x":27.75,"y":33},{"s":"H","x":28,"y":35},{"s":"H","x":28.25,"y":33},{"s":"H","x":28.5,"y":40},{"s":"H","x":28.75,"y":32},
{"s":"H","x":29,"y":34},{"s":"H","x":29.25,"y":31},{"s":"H","x":29.5,"y":33},{"s":"H","x":29.75,"y":31},{"s":"H","x":30,"y":33},{"s":"H","x":30.25,"y":30},{"s":"H","x":30.5,"y":33},{"s":"H","x":30.75,"y":31},{"s":"H","x":31,"y":33},{"s":"H","x":31.25,"y":30},{"s":"H","x":31.5,"y":32},{"s":"H","x":31.75,"y":30},{"s":"H","x":32,"y":32},{"s":"H","x":32.25,"y":29},{"s":"H","x":32.5,"y":32},{"s":"H","x":32.75,"y":30},{"s":"H","x":33,"y":31},{"s":"H","x":33.25,"y":29},{"s":"H","x":33.5,"y":32},{"s":"H","x":33.75,"y":30},
{"s":"H","x":34,"y":31},{"s":"H","x":34.25,"y":28},{"s":"H","x":34.5,"y":31},{"s":"H","x":34.75,"y":29},{"s":"H","x":35,"y":31},{"s":"H","x":35.25,"y":28},{"s":"H","x":35.5,"y":30},{"s":"H","x":35.75,"y":28},{"s":"H","x":36,"y":30},{"s":"H","x":36.25,"y":28},{"s":"H","x":36.5,"y":30},{"s":"H","x":36.75,"y":27},{"s":"H","x":37,"y":30},{"s":"H","x":37.25,"y":28},{"s":"H","x":37.5,"y":29},{"s":"H","x":37.75,"y":27},{"s":"H","x":38,"y":29},{"s":"H","x":38.25,"y":27},{"s":"H","x":38.5,"y":29},{"s":"H","x":38.75,"y":26},
{"s":"H","x":39,"y":29},{"s":"H","x":39.25,"y":27},{"s":"H","x":39.5,"y":28},{"s":"H","x":39.75,"y":26},{"s":"H","x":40,"y":28},

{"s":"I","x":5,"y":3},{"s":"I","x":5.25,"y":5},{"s":"I","x":5.5,"y":2},{"s":"I","x":5.75,"y":4},{"s":"I","x":6,"y":3},{"s":"I","x":6.25,"y":5},{"s":"I","x":6.5,"y":3},{"s":"I","x":6.75,"y":4},{"s":"I","x":7,"y":2},{"s":"I","x":7.25,"y":5},{"s":"I","x":7.5,"y":3},{"s":"I","x":7.75,"y":5},{"s":"I","x":8,"y":4},{"s":"I","x":8.25,"y":6},{"s":"I","x":8.5,"y":4},{"s":"I","x":8.75,"y":7},{"s":"I","x":9,"y":5},{"s":"I","x":9.25,"y":7},{"s":"I","x":9.5,"y":6},{"s":"I","x":9.75,"y":8},
{"s":"I","x":10,"y":7},{"s":"I","x":10.25,"y":9},{"s":"I","x":10.5,"y":8},{"s":"I","x":10.75,"y":10},{"s":"I","x":11,"y":9},{"s":"I","x":11.25,"y":11},{"s":"I","x":11.5,"y":10},{"s":"I","x":11.75,"y":12},{"s":"I","x":12,"y":11},{"s":"I","x":12.25,"y":13},{"s":"I","x":12.5,"y":12},{"s":"I","x":12.75,"y":14},{"s":"I","x":13,"y":13},{"s":"I","x":13.25,"y":15},{"s":"I","x":13.5,"y":14},{"s":"I","x":13.75,"y":17},
{"s":"I","x":14,"y":16},{"s":"I","x":14.25,"y":19},{"s":"I","x":14.5,"y":22},{"s":"I","x":14.75,"y":28},{"s":"I","x":15,"y":33},{"s":"I","x":15.25,"y":29},{"s":"I","x":15.5,"y":24},{"s":"I","x":15.75,"y":21},{"s":"I","x":16,"y":24},{"s":"I","x":16.25,"y":30},{"s":"I","x":16.5,"y":35},{"s":"I","x":16.75,"y":39},{"s":"I","x":17,"y":41},{"s":"I","x":17.25,"y":38},{"s":"I","x":17.5,"y":42},{"s":"I","x":17.75,"y":39},{"s":"I","x":18,"y":41},{"s":"I","x":18.25,"y":37},{"s":"I","x":18.5,"y":33},{"s":"I","x":18.75,"y":29},
{"s":"I","x":19,"y":27},{"s":"I","x":19.25,"y":25},{"s":"I","x":19.5,"y":26},{"s":"I","x":19.75,"y":23},{"s":"I","x":20,"y":24},{"s":"I","x":20.25,"y":21},{"s":"I","x":20.5,"y":23},{"s":"I","x":20.75,"y":20},{"s":"I","x":21,"y":21},{"s":"I","x":21.25,"y":19},{"s":"I","x":21.5,"y":22},{"s":"I","x":21.75,"y":24},{"s":"I","x":22,"y":26},{"s":"I","x":22.25,"y":29},{"s":"I","x":22.5,"y":32},{"s":"I","x":22.75,"y":35},{"s":"I","x":23,"y":34},{"s":"I","x":23.25,"y":31},{"s":"I","x":23.5,"y":27},{"s":"I","x":23.75,"y":24},
{"s":"I","x":24,"y":21},{"s":"I","x":24.25,"y":18},{"s":"I","x":24.5,"y":17},{"s":"I","x":24.75,"y":15},{"s":"I","x":25,"y":16},{"s":"I","x":25.25,"y":13},{"s":"I","x":25.5,"y":15},{"s":"I","x":25.75,"y":12},{"s":"I","x":26,"y":14},{"s":"I","x":26.25,"y":11},{"s":"I","x":26.5,"y":13},{"s":"I","x":26.75,"y":11},{"s":"I","x":27,"y":13},{"s":"I","x":27.25,"y":10},{"s":"I","x":27.5,"y":13},{"s":"I","x":27.75,"y":11},{"s":"I","x":28,"y":14},{"s":"I","x":28.25,"y":12},{"s":"I","x":28.5,"y":14},{"s":"I","x":28.75,"y":12},
{"s":"I","x":29,"y":15},{"s":"I","x":29.25,"y":13},{"s":"I","x":29.5,"y":15},{"s":"I","x":29.75,"y":13},{"s":"I","x":30,"y":16},{"s":"I","x":30.25,"y":14},{"s":"I","x":30.5,"y":16},{"s":"I","x":30.75,"y":14},{"s":"I","x":31,"y":17},{"s":"I","x":31.25,"y":14},{"s":"I","x":31.5,"y":16},{"s":"I","x":31.75,"y":13},{"s":"I","x":32,"y":15},{"s":"I","x":32.25,"y":13},{"s":"I","x":32.5,"y":15},{"s":"I","x":32.75,"y":12},{"s":"I","x":33,"y":14},{"s":"I","x":33.25,"y":12},{"s":"I","x":33.5,"y":14},{"s":"I","x":33.75,"y":11},
{"s":"I","x":34,"y":13},{"s":"I","x":34.25,"y":11},{"s":"I","x":34.5,"y":13},{"s":"I","x":34.75,"y":10},{"s":"I","x":35,"y":12},{"s":"I","x":35.25,"y":10},{"s":"I","x":35.5,"y":12},{"s":"I","x":35.75,"y":10},{"s":"I","x":36,"y":12},{"s":"I","x":36.25,"y":9},{"s":"I","x":36.5,"y":11},{"s":"I","x":36.75,"y":9},{"s":"I","x":37,"y":11},{"s":"I","x":37.25,"y":9},{"s":"I","x":37.5,"y":11},{"s":"I","x":37.75,"y":8},{"s":"I","x":38,"y":10},{"s":"I","x":38.25,"y":9},{"s":"I","x":38.5,"y":11},{"s":"I","x":38.75,"y":8},
{"s":"I","x":39,"y":10},{"s":"I","x":39.25,"y":8},{"s":"I","x":39.5,"y":10},{"s":"I","x":39.75,"y":7},{"s":"I","x":40,"y":9}
]
},
"layer": [
{
"data": {"name": "xrd"},
"mark": {"type": "line", "color": "#111111", "strokeWidth": 1.4},
"encoding": {
"x": {"field": "x", "type": "quantitative", "scale": {"domain": [5, 40], "nice": false},
"axis": {"values": [5,10,15,20,25,30,35,40], "title": "2θ (degree)", "grid": false, "labelFlush": false,
"labelFont": "Liberation Serif", "labelFontWeight": "bold", "labelFontSize": 15, "labelColor": "black",
"domainColor": "black", "domainWidth": 1.5, "tickColor": "black", "tickSize": 4, "labelPadding": 7,
"titleFont": "Liberation Serif", "titleFontSize": 15, "titleFontWeight": "bold", "titleColor": "black", "titlePadding": 15}},
"y": {"field": "y", "type": "quantitative", "scale": {"domain": [0, 274], "nice": false, "zero": false},
"axis": {"title": "Intensity", "grid": false, "ticks": false, "labels": false, "domainColor": "black", "domainWidth": 2,
"titleFont": "Liberation Serif", "titleFontSize": 15, "titleFontWeight": "bold", "titleColor": "black", "titlePadding": 21}},
"detail": {"field": "s"}
}
},
{
"data": {"name": "frame"},
"mark": {"type": "line", "color": "black", "strokeWidth": 1.5},
"encoding": {
"x": {"field": "x", "type": "quantitative"},
"y": {"field": "y", "type": "quantitative"},
"detail": {"field": "s"}
}
},
{
"data": {"name": "labels"},
"mark": {"type": "text", "align": "left", "baseline": "middle", "dx": 1, "font": "Liberation Serif", "fontWeight": "bold", "fontSize": 14, "color": "black"},
"encoding": {
"x": {"field": "x", "type": "quantitative"},
"y": {"field": "y", "type": "quantitative"},
"text": {"field": "t"}
}
}
]
}
